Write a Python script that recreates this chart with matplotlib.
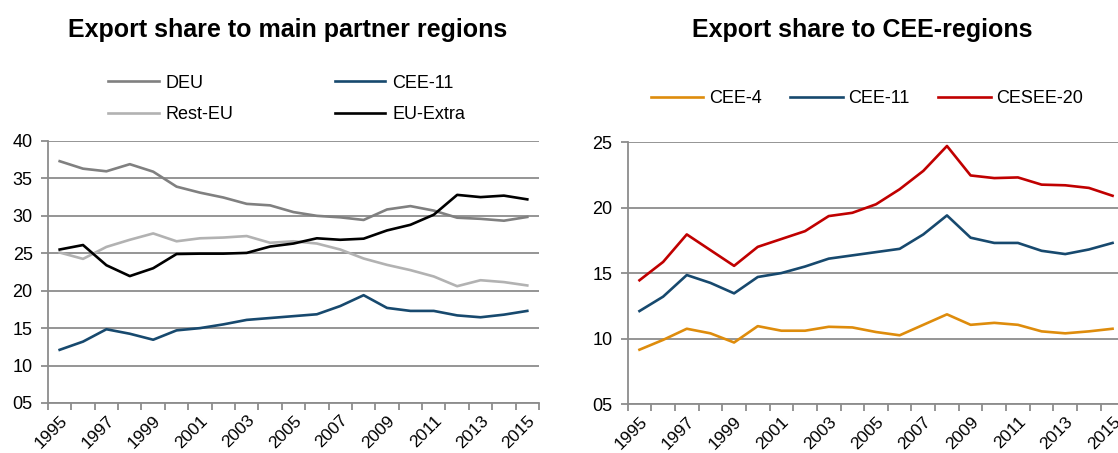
import matplotlib
matplotlib.use('Agg')
import matplotlib.pyplot as plt
from matplotlib.ticker import FixedLocator, FuncFormatter
from matplotlib.transforms import ScaledTranslation

plt.rcParams['font.family'] = ['Liberation Sans', 'DejaVu Sans']

years = list(range(1995, 2016))

# left chart: main partner regions
deu = [37.3, 36.3, 35.95, 36.9, 35.9, 33.9, 33.1, 32.45, 31.6, 31.4, 30.5,
       30.0, 29.8, 29.45, 30.85, 31.3, 30.7, 29.75, 29.6, 29.35, 29.85]
rest_eu = [25.1, 24.25, 25.85, 26.8, 27.65, 26.6, 27.0, 27.1, 27.3, 26.4, 26.6,
           26.3, 25.5, 24.3, 23.45, 22.75, 21.9, 20.6, 21.4, 21.15, 20.7]
eu_extra = [25.5, 26.1, 23.4, 21.95, 23.0, 24.9, 24.95, 24.95, 25.05, 25.9, 26.3,
            27.0, 26.8, 26.95, 28.05, 28.8, 30.15, 32.8, 32.5, 32.7, 32.2]

# right chart: CEE regions
cee11 = [12.1, 13.2, 14.85, 14.25, 13.45, 14.7, 15.0, 15.5, 16.1, 16.35, 16.6,
         16.85, 17.95, 19.4, 17.7, 17.3, 17.3, 16.7, 16.45, 16.8, 17.3]
cesee20 = [14.45, 15.85, 17.95, 16.75, 15.55, 17.0, 17.6, 18.2, 19.35, 19.6, 20.25,
           21.4, 22.8, 24.7, 22.45, 22.25, 22.3, 21.75, 21.7, 21.5, 20.9]
cee4 = [9.15, 9.9, 10.75, 10.4, 9.7, 10.95, 10.6, 10.6, 10.9, 10.85, 10.5,
        10.25, 11.05, 11.85, 11.05, 11.2, 11.05, 10.55, 10.4, 10.55, 10.75]

GRID = '#8c8c8c'
FS = 13


def style_axis(ax, ymin, ymax):
    x = list(range(len(years)))
    ax.set_xlim(-0.5, len(years) - 0.5)
    ax.set_ylim(ymin, ymax)
    ax.xaxis.set_major_locator(FixedLocator(x[::2]))
    ax.set_xticklabels([str(y) for y in years[::2]], rotation=45, ha='right',
                       va='top', rotation_mode='anchor', fontsize=12.5)
    shift = ScaledTranslation(6 / 100, 0, fig.dpi_scale_trans)
    for lab in ax.get_xticklabels():
        lab.set_transform(lab.get_transform() + shift)
    ax.xaxis.set_minor_locator(FixedLocator([i - 0.5 for i in range(len(years) + 1)]))
    ax.tick_params(axis='x', which='major', length=0, pad=7)
    ax.tick_params(axis='x', which='minor', length=5, width=1.3, color=GRID)
    ax.yaxis.set_major_locator(FixedLocator(list(range(ymin, ymax + 1, 5))))
    ax.yaxis.set_major_formatter(FuncFormatter(lambda v, p: f'{int(v):02d}'))
    ax.tick_params(axis='y', length=5, width=1.3, color=GRID, labelsize=FS, pad=6)
    ax.grid(axis='y', color=GRID, linewidth=1.3)
    ax.set_axisbelow(True)
    for s in ['top', 'right']:
        ax.spines[s].set_visible(False)
    for s in ['left', 'bottom']:
        ax.spines[s].set_color(GRID)
        ax.spines[s].set_linewidth(1.3)


fig = plt.figure(figsize=(11.18, 4.53), dpi=100)
ax1 = fig.add_axes([0.0429, 0.1104, 0.4392, 0.5784])
ax2 = fig.add_axes([0.5614, 0.108, 0.4443, 0.5784])

x = list(range(len(years)))
lw = 1.9
l_deu, = ax1.plot(x, deu, color='#808080', lw=lw, label='DEU')
l_rest, = ax1.plot(x, rest_eu, color='#b2b2b2', lw=lw, label='Rest-EU')
l_cee, = ax1.plot(x, cee11, color='#17496e', lw=lw, label='CEE-11')
l_ext, = ax1.plot(x, eu_extra, color='#000000', lw=lw, label='EU-Extra')
style_axis(ax1, 5, 40)

ax2.plot(x, cee4, color='#de8c0c', lw=lw, label='CEE-4')
ax2.plot(x, cee11, color='#17496e', lw=lw, label='CEE-11')
ax2.plot(x, cesee20, color='#c00000', lw=lw, label='CESEE-20')
style_axis(ax2, 5, 25)

fig.legend(handles=[l_deu, l_rest, l_cee, l_ext], ncol=2, loc='upper left',
           bbox_to_anchor=(108 / 1118, 1 - 74.5 / 453), frameon=False,
           borderpad=0, borderaxespad=0, fontsize=FS, handlelength=2.8,
           handletextpad=0.4, columnspacing=5.6, labelspacing=0.82)
ax2.legend(ncol=3, loc='upper left', bbox_to_anchor=(651 / 1118, 1 - 90 / 453),
           bbox_transform=fig.transFigure, frameon=False, borderpad=0,
           borderaxespad=0, fontsize=FS, handlelength=2.9, handletextpad=0.3,
           columnspacing=1.6)

fig.text(288 / 1118, 1 - 30 / 453, 'Export share to main partner regions',
         ha='center', va='center', fontsize=18, fontweight='bold')
fig.text(862 / 1118, 1 - 30 / 453, 'Export share to CEE-regions',
         ha='center', va='center', fontsize=18, fontweight='bold')

fig.savefig('out.png', dpi=100)
